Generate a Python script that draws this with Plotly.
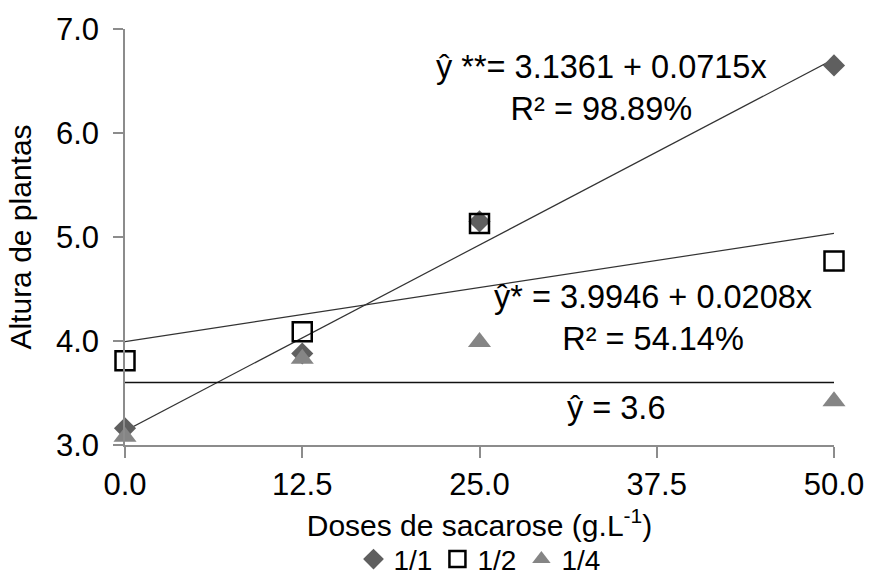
import plotly.graph_objects as go

doses = [0, 12.5, 25, 50]
alt_11 = [3.16, 3.88, 5.15, 6.65]
alt_12 = [3.81, 4.09, 5.13, 4.77]
alt_14 = [3.08, 3.83, 3.99, 3.42]

# regression coefficients (intercept, slope)
fit_11 = (3.1361, 0.0715)
fit_12 = (3.9946, 0.0208)
mean_14 = 3.6

x_ticks = [0, 12.5, 25, 37.5, 50]
x_tick_labels = ["0.0", "12.5", "25.0", "37.5", "50.0"]
y_ticks = [3, 4, 5, 6, 7]
y_tick_labels = ["3.0", "4.0", "5.0", "6.0", "7.0"]

FONT = "Liberation Sans, Arial, sans-serif"
x_line = [doses[0], doses[-1]]

fig = go.Figure()

# trend lines
fig.add_trace(go.Scatter(x=x_line, y=[fit_11[0] + fit_11[1] * v for v in x_line],
                         mode="lines", line=dict(color="#333333", width=1.2),
                         showlegend=False, hoverinfo="skip"))
fig.add_trace(go.Scatter(x=x_line, y=[fit_12[0] + fit_12[1] * v for v in x_line],
                         mode="lines", line=dict(color="#333333", width=1.2),
                         showlegend=False, hoverinfo="skip"))
fig.add_trace(go.Scatter(x=x_line, y=[mean_14, mean_14],
                         mode="lines", line=dict(color="#111111", width=1.5),
                         showlegend=False, hoverinfo="skip"))

fig.add_trace(go.Scatter(x=doses, y=alt_11, mode="markers", name="1/1",
                         marker=dict(symbol="diamond", size=17, color="#5f5f5f",
                                     line=dict(width=0)),
                         cliponaxis=False))
fig.add_trace(go.Scatter(x=doses, y=alt_12, mode="markers", name="1/2",
                         marker=dict(symbol="square-open", size=19, color="#000000",
                                     line=dict(width=2.5, color="#000000")),
                         cliponaxis=False))
fig.add_trace(go.Scatter(x=doses, y=alt_14, mode="markers", name="1/4",
                         marker=dict(symbol="triangle-up", size=20, color="#858585",
                                     line=dict(width=0)),
                         cliponaxis=False))

ann_font = dict(family=FONT, size=32.5, color="#000000")
fig.add_annotation(x=33.6, y=6.43, xref="x", yref="y", showarrow=False,
                   text="ŷ **= 3.1361 + 0.0715x<br>R² = 98.89%", font=ann_font,
                   align="center")
fig.add_annotation(x=37.2, y=4.22, xref="x", yref="y", showarrow=False,
                   text="ŷ* = 3.9946 + 0.0208x<br>R² = 54.14%", font=ann_font,
                   align="center")
fig.add_annotation(x=34.6, y=3.36, xref="x", yref="y", showarrow=False,
                   text="ŷ = 3.6", font=ann_font, align="center")

fig.update_layout(
    width=869, height=581,
    margin=dict(l=125, r=35, t=29, b=136, autoexpand=False),
    paper_bgcolor="white", plot_bgcolor="white",
    font=dict(family=FONT, color="#000000"),
    showlegend=True,
    legend=dict(orientation="h", x=0.5, xanchor="center", y=-0.275, yanchor="middle",
                font=dict(family=FONT, size=28), itemwidth=30, tracegroupgap=0,
                bgcolor="rgba(0,0,0,0)"),
    xaxis=dict(range=[0, 50], tickvals=x_ticks, ticktext=x_tick_labels,
               showgrid=False, zeroline=False, showline=True, linecolor="#8c8c8c",
               linewidth=1.5, ticks="outside", ticklen=11, tickcolor="#8c8c8c",
               tickwidth=1.5, tickfont=dict(family=FONT, size=31), automargin=False,
               title=dict(text="Doses de sacarose (g.L<sup>-1</sup>)",
                          font=dict(family=FONT, size=30), standoff=14)),
    yaxis=dict(range=[3, 7], tickvals=y_ticks, ticktext=y_tick_labels,
               showgrid=False, zeroline=False, showline=True, linecolor="#8c8c8c",
               linewidth=1.5, ticks="outside", ticklen=10, tickcolor="#8c8c8c",
               tickwidth=1.5, tickfont=dict(family=FONT, size=31), automargin=False,
               ticklabelstandoff=8,
               title=dict(text="Altura de plantas", font=dict(family=FONT, size=30),
                          standoff=15)),
)

fig.write_html("out.html")
